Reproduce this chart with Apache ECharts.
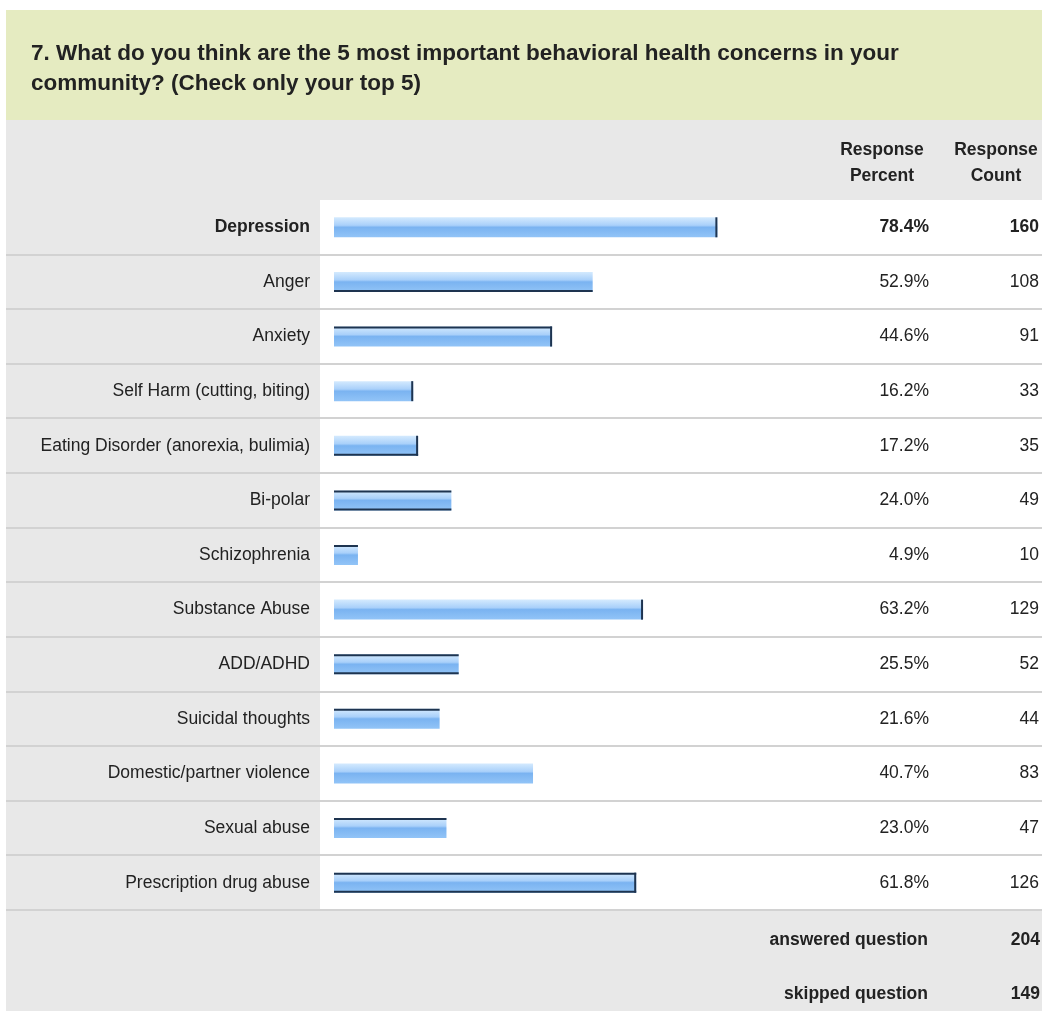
<!DOCTYPE html>
<html>
<head>
<meta charset="utf-8">
<script src="https://cdn.jsdelivr.net/npm/echarts@6/dist/echarts.min.js"></script>
<style>
  html, body { margin: 0; padding: 0; background: #fff; }
  #main { width: 1042px; height: 1011px; }
</style>
</head>
<body>
<div id="main"></div>
<script>
// survey answers
const categories = [
  'Depression', 'Anger', 'Anxiety', 'Self Harm (cutting, biting)',
  'Eating Disorder (anorexia, bulimia)', 'Bi-polar', 'Schizophrenia',
  'Substance Abuse', 'ADD/ADHD', 'Suicidal thoughts',
  'Domestic/partner violence', 'Sexual abuse', 'Prescription drug abuse'
];
const percents = [78.4, 52.9, 44.6, 16.2, 17.2, 24.0, 4.9, 63.2, 25.5, 21.6, 40.7, 23.0, 61.8];
const counts = [160, 108, 91, 33, 35, 49, 10, 129, 52, 44, 83, 47, 126];
const summaryLabels = ['answered question', 'skipped question'];
const summaryValues = [204, 149];

const titleText = '7. What do you think are the 5 most important behavioral health concerns in your\ncommunity? (Check only your top 5)';

// which sides of each bar get the dark edge (as in the scanned original)
const edgeSides = ['r', 'b', 'tr', 'r', 'rb', 'tb', 't', 'r', 'tb', 't', '', 't', 'tbr'];

const FONT = '"Liberation Sans", Arial, sans-serif';
const FS = 17.5;
const gridTop = 200, gridBottom = 910, rowH = (gridBottom - gridTop) / categories.length;

const chart = echarts.init(document.getElementById('main'), null, { renderer: 'canvas' });

const barGradient = new echarts.graphic.LinearGradient(0, 0, 0, 1, [
  { offset: 0, color: '#d4eafe' },
  { offset: 0.4, color: '#a9d0fa' },
  { offset: 0.5, color: '#7ab3f1' },
  { offset: 1, color: '#92c4f7' }
]);

// backgrounds + row separators
const graphics = [
  { type: 'rect', z: -10, shape: { x: 6, y: 10, width: 1036, height: 110 }, style: { fill: '#e5ebc1' } },
  { type: 'rect', z: -10, shape: { x: 6, y: 120, width: 1036, height: 80 }, style: { fill: '#e8e8e8' } },
  { type: 'rect', z: -10, shape: { x: 6, y: 200, width: 314, height: 710 }, style: { fill: '#e8e8e8' } },
  { type: 'rect', z: -10, shape: { x: 6, y: 910, width: 1036, height: 101 }, style: { fill: '#e8e8e8' } }
];
for (let i = 1; i <= categories.length; i++) {
  const y = Math.round(gridTop + i * rowH);
  graphics.push({
    type: 'line', z: -5,
    shape: { x1: 6, y1: y, x2: 1042, y2: y },
    style: { stroke: '#d2d2d2', lineWidth: 2 }
  });
}
// column headers
graphics.push(
  { type: 'text', style: { x: 882, y: 163, text: 'Response\nPercent', align: 'center', verticalAlign: 'middle',
      font: 'bold ' + FS + 'px ' + FONT, fill: '#222', lineHeight: 26 } },
  { type: 'text', style: { x: 996, y: 163, text: 'Response\nCount', align: 'center', verticalAlign: 'middle',
      font: 'bold ' + FS + 'px ' + FONT, fill: '#222', lineHeight: 26 } }
);
// footer summary
summaryLabels.forEach(function (lab, i) {
  const y = 940 + i * 54;
  graphics.push(
    { type: 'text', style: { x: 928, y: y, text: lab, align: 'right', verticalAlign: 'middle',
        font: 'bold ' + FS + 'px ' + FONT, fill: '#222' } },
    { type: 'text', style: { x: 1040, y: y, text: String(summaryValues[i]), align: 'right', verticalAlign: 'middle',
        font: 'bold ' + FS + 'px ' + FONT, fill: '#222' } }
  );
});

function rowLabel(fmt) {
  return function (value, idx) {
    return idx === 0 ? '{b|' + fmt(value) + '}' : fmt(value);
  };
}
const labelRich = { b: { fontWeight: 'bold', fontSize: FS, fontFamily: FONT, color: '#222' } };

var option = {
  animation: false,
  textStyle: { fontFamily: FONT },
  title: {
    text: titleText,
    left: 26,
    top: 34,
    textStyle: { fontSize: 22.5, fontWeight: 'bold', color: '#222', lineHeight: 30, fontFamily: FONT }
  },
  graphic: graphics,
  grid: { left: 334, top: gridTop, width: 490, height: gridBottom - gridTop },
  xAxis: {
    type: 'value', min: 0, max: 100, show: false
  },
  yAxis: [{
    type: 'category',
    inverse: true,
    data: categories,
    axisLine: { show: false },
    axisTick: { show: false },
    axisLabel: {
      margin: 24, fontSize: FS, color: '#222', fontFamily: FONT,
      formatter: rowLabel(function (v) { return v; }), rich: labelRich
    }
  }, {
    type: 'category',
    inverse: true,
    position: 'right',
    data: percents.map(function (v) { return v.toFixed(1) + '%'; }),
    axisLine: { show: false },
    axisTick: { show: false },
    axisLabel: {
      margin: 106, align: 'right', fontSize: FS, color: '#222', fontFamily: FONT,
      formatter: rowLabel(function (v) { return v; }), rich: labelRich
    }
  }, {
    type: 'category',
    inverse: true,
    position: 'right',
    data: counts.map(String),
    axisLine: { show: false },
    axisTick: { show: false },
    axisLabel: {
      margin: 216, align: 'right', fontSize: FS, color: '#222', fontFamily: FONT,
      formatter: rowLabel(function (v) { return v; }), rich: labelRich
    }
  }],
  series: [{
    name: 'Response Percent',
    type: 'bar',
    data: percents,
    barWidth: 20,
    itemStyle: { color: barGradient }
  }, {
    name: 'edges',
    type: 'custom',
    data: percents.map(function (v, i) { return [v, i]; }),
    z: 5,
    renderItem: function (params, api) {
      const end = api.coord([api.value(0), api.value(1)]);
      const start = api.coord([0, api.value(1)]);
      const sides = edgeSides[params.dataIndex] || '';
      const top = end[1] - 10, bot = end[1] + 10;
      const kids = [];
      const st = { stroke: '#1e3450', lineWidth: 2 };
      if (sides.indexOf('t') >= 0) kids.push({ type: 'line', shape: { x1: start[0], y1: top + 1, x2: end[0], y2: top + 1 }, style: st });
      if (sides.indexOf('b') >= 0) kids.push({ type: 'line', shape: { x1: start[0], y1: bot - 1, x2: end[0], y2: bot - 1 }, style: st });
      if (sides.indexOf('r') >= 0) kids.push({ type: 'line', shape: { x1: end[0] - 1, y1: top, x2: end[0] - 1, y2: bot }, style: st });
      return { type: 'group', children: kids };
    }
  }]
};

chart.setOption(option);
</script>
</body>
</html>
